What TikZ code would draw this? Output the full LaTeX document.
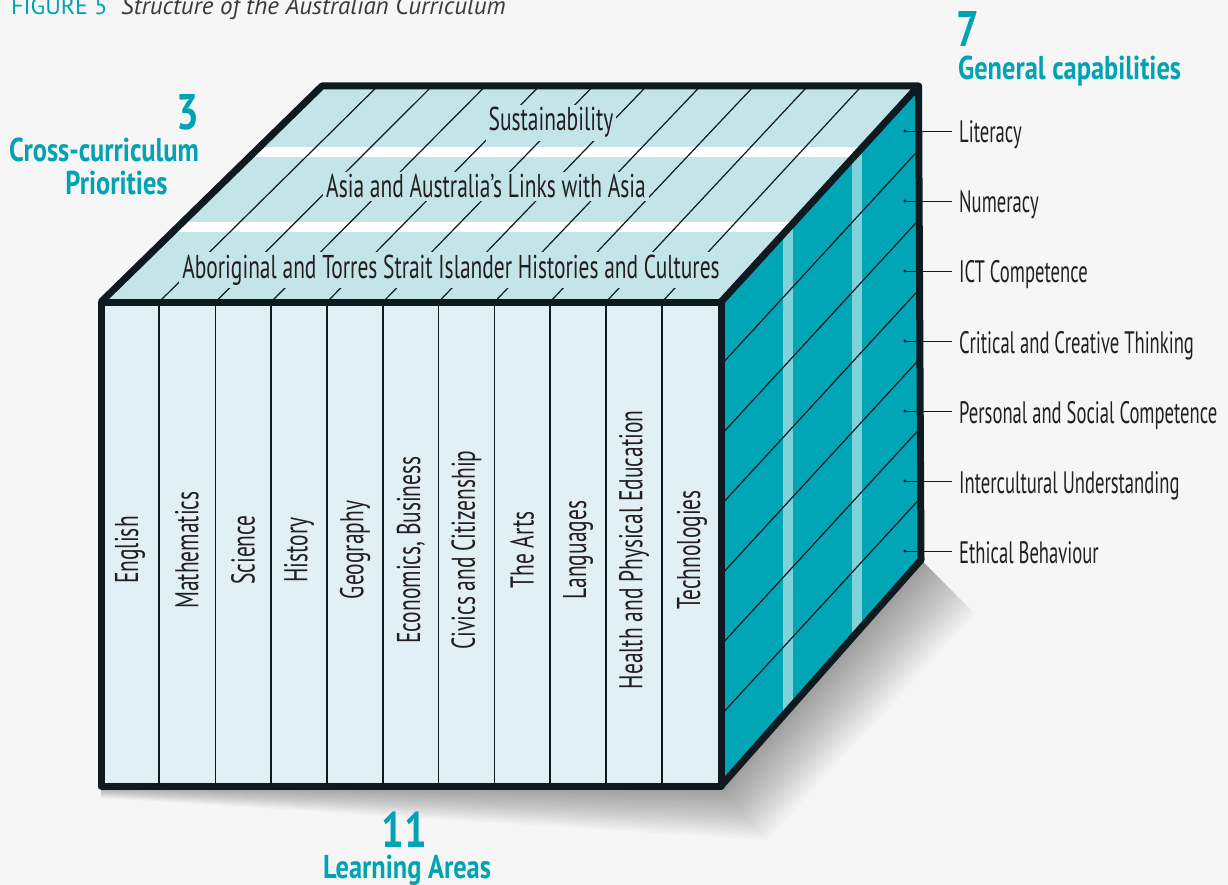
\documentclass[tikz,border=0pt]{standalone}
\usepackage{fontspec}
\setmainfont{PT Sans}
\newfontfamily\lblfont[FakeStretch=0.6]{PT Sans}
\newfontfamily\facefont[FakeStretch=0.65]{PT Sans}
\newfontfamily\hdfont[FakeStretch=0.8]{PT Sans}
\newfontfamily\capfont{PT Sans}
\definecolor{bgc}{HTML}{F6F6F6}
\definecolor{edgec}{HTML}{0E1920}
\definecolor{frontc}{HTML}{E1F0F5}
\definecolor{topc}{HTML}{C3E4E9}
\definecolor{rightc}{HTML}{00A6B6}
\definecolor{stripec}{HTML}{7FD1DA}
\definecolor{tealc}{HTML}{00A3B4}
\definecolor{txtc}{HTML}{231F20}
\definecolor{capc}{HTML}{3A3A3A}
\begin{document}
\begin{tikzpicture}[x=1pt,y=-1pt,line join=round,
  edge/.style={draw=edgec,line width=7pt},
  thinline/.style={draw=edgec,line width=1.2pt},
  lbl/.style={font=\lblfont\fontsize{31}{31}\selectfont,text=txtc,inner sep=0pt},
  facelbl/.style={font=\facefont\fontsize{33}{33}\selectfont,text=txtc,inner sep=0pt},
  facetext/.style={facelbl,fill=topc,inner sep=3pt},
  head/.style={font=\hdfont\bfseries\fontsize{33}{33}\selectfont,text=tealc,inner sep=0pt},
  num/.style={font=\hdfont\bfseries\fontsize{50}{50}\selectfont,text=tealc,inner sep=0pt,text depth=0pt},
  leader/.style={draw=edgec,line width=0.8pt}]
\useasboundingbox (0,0) rectangle (1228,885);
\fill[bgc] (0,0) rectangle (1228,885);
% shadow
\foreach \s in {3,6,...,60}{
  \fill[black,opacity=0.018] (101,786) -- (721,786) -- (921,560) -- ({921+0.9*\s},{560+0.9*\s}) -- ({721+0.75*\s},{786+0.9*\s}) -- (101,{786+0.2*\s}) -- cycle;}
% corners
\coordinate (A) at (101,302);
\coordinate (B) at (721,302);
\coordinate (C) at (721,786);
\coordinate (D) at (101,786);
\coordinate (E) at (322,86);
\coordinate (F) at (918.5,86);
\coordinate (G) at (921,560);
% faces
\fill[frontc] (A) -- (B) -- (C) -- (D) -- cycle;
\fill[topc] (A) -- (B) -- (F) -- (E) -- cycle;
\fill[rightc] (B) -- (F) -- (G) -- (C) -- cycle;
% top face
\begin{scope}
  \clip (A) -- (B) -- (F) -- (E) -- cycle;
  \fill[white] (0,147) rectangle (1000,157);
  \fill[white] (0,222) rectangle (1000,232);
  \foreach \x in {159,215.5,271,327,383,438.5,494.5,550,606,662}
    \draw[thinline] (\x,302) -- ({322+(\x-101)*0.962},86);
\end{scope}
% right face
\begin{scope}
  \clip (B) -- (F) -- (G) -- (C) -- cycle;
  \fill[stripec] (783,0) rectangle (793,900);
  \fill[stripec] (852,0) rectangle (862,900);
  \foreach \y in {365,435,505,575,645,715}
    \draw[thinline] (721,\y) -- (925,{\y-204*1.088});
\end{scope}
% front columns
\foreach \x in {159,215.5,271,327,383,438.5,494.5,550,606,662}
  \draw[thinline] (\x,302) -- (\x,786);
% top face texts
\node[facetext,anchor=base] (p1) at (551,131) {Sustainability};
\node[facetext,anchor=base] (p2) at (486,198) {Asia and Australia’s Links with Asia};
\node[facetext,anchor=base] (p3) at (451,278) {Aboriginal and Torres Strait Islander Histories and Cultures};
% edges
\draw[edge] (A) -- (B) -- (C) -- (D) -- cycle;
\draw[edge] (A) -- (E) -- (F) -- (B);
\draw[edge] (F) -- (G) -- (C);
% learning areas
\foreach \x/\t [count=\i] in {130/English,187/Mathematics,243/Science,299/History,355/Geography,411/{Economics, Business},466.5/Civics and Citizenship,522/The Arts,578/Languages,634/Health and Physical Education,692/Technologies}
  \node[facelbl,rotate=90] (la\i) at (\x,550) {\t};
% general capabilities
\foreach \y/\t [count=\i] in {131/Literacy,201/Numeracy,271/ICT Competence,341/Critical and Creative Thinking,411/Personal and Social Competence,481/Intercultural Understanding,551/Ethical Behaviour}{
  \coordinate (gd\i) at (905,\y);
  \node[lbl,anchor=base west,inner xsep=7pt] (gc\i) at (952,{\y+12}) {\t};
  \draw[leader] (gd\i) -- (gd\i -| gc\i.west);
  \fill[edgec] (gd\i) circle (1.7pt);
}
% headings
\node[num,anchor=base] (n3) at (188,130) {3};
\node[head,anchor=base] (h3a) at (104,162) {Cross-curriculum};
\node[head,anchor=base] (h3b) at (116.5,195) {Priorities};
\node[num,anchor=base] (n7) at (968,47) {7};
\node[head,anchor=base west] (h7) at (958,80) {General capabilities};
\node[num,anchor=base] (n11) at (404,847) {11};
\node[head,anchor=base] (h11) at (407,878) {Learning Areas};
% caption
\node[font=\capfont\fontsize{24}{24}\selectfont,text=tealc,anchor=base west,inner sep=0pt] (fig) at (11,15) {FIGURE 5};
\node[font=\capfont\itshape\fontsize{25}{25}\selectfont,text=capc,anchor=base west,inner sep=0pt] (cap) at (121,15) {Structure of the Australian Curriculum};
\end{tikzpicture}
\end{document}
